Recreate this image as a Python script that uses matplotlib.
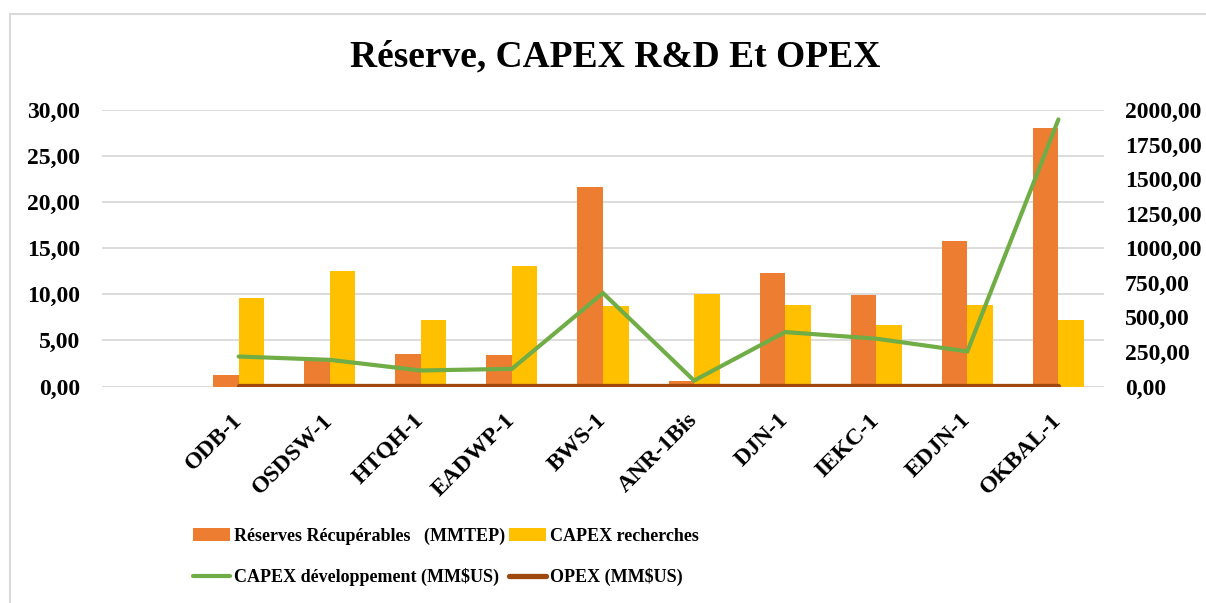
import numpy as np
from matplotlib import pyplot as plt
from matplotlib.patches import Rectangle
from matplotlib.ticker import FuncFormatter

plt.rcParams['font.family'] = ['Liberation Serif', 'DejaVu Serif']
plt.rcParams['font.weight'] = 'bold'

wells = ['ODB-1', 'OSDSW-1', 'HTQH-1', 'EADWP-1', 'BWS-1',
         'ANR-1Bis', 'DJN-1', 'IEKC-1', 'EDJN-1', 'OKBAL-1']
reserves = [1.2, 3.0, 3.5, 3.4, 21.7, 0.65, 12.3, 9.9, 15.8, 28.1]
capex_rech = [9.6, 12.5, 7.2, 13.1, 8.7, 10.0, 8.9, 6.7, 8.8, 7.25]
capex_dev = [217, 193, 116, 128, 676, 43, 394, 346, 254, 1932]
opex = [3, 3, 3, 3, 3, 3, 3, 3, 3, 3]

c_orange = '#ED7D31'
c_yellow = '#FFC000'
c_green = '#70AD47'
c_brown = '#9E480E'
c_grid = '#D9D9D9'

fig = plt.figure(figsize=(12.06, 6.03), dpi=100)
ax = fig.add_axes([0.0846, 0.359, 0.8308, 0.4585])
ax2 = ax.twinx()

x = np.arange(len(wells))
w = 0.28
b1 = ax.bar(x - w / 2, reserves, w, color=c_orange, zorder=2)
b2 = ax.bar(x + w / 2, capex_rech, w, color=c_yellow, zorder=2)
l1, = ax2.plot(x, capex_dev, color=c_green, lw=3.0, solid_capstyle='round',
               solid_joinstyle='miter', zorder=4)
l2, = ax2.plot(x, opex, color=c_brown, lw=3.8, solid_capstyle='round', zorder=3)

# one empty slot on the left of the first well
ax.set_xlim(-1.5, 9.5)
ax.set_ylim(0, 30)
ax2.set_ylim(0, 2000)
ax.set_yticks(np.arange(0, 31, 5))
ax2.set_yticks(np.arange(0, 2001, 250))

fmt = FuncFormatter(lambda v, p: f'{v:.2f}'.replace('.', ','))
ax.yaxis.set_major_formatter(fmt)
ax2.yaxis.set_major_formatter(fmt)

ax.grid(axis='y', color=c_grid, lw=1.3, zorder=0)
ax.set_axisbelow(True)
for a in (ax, ax2):
    for s in a.spines.values():
        s.set_visible(False)
    a.tick_params(length=0, labelsize=17)
ax.tick_params(axis='y', pad=16)
ax2.tick_params(axis='y', pad=15)

ax.set_xticks(x)
ax.set_xticklabels(wells, rotation=45, ha='right', va='center',
                   rotation_mode='anchor')
ax.tick_params(axis='x', pad=22)

fig.text(0.51, 0.905, 'Réserve, CAPEX R&D Et OPEX', ha='center', va='center',
         fontsize=27, fontweight='bold')

fig.legend([b1, l1, b2, l2],
           ['Réserves Récupérables   (MMTEP)', 'CAPEX développement (MM$US)',
            'CAPEX recherches', 'OPEX (MM$US)'],
           ncol=2, loc='center left', bbox_to_anchor=(0.16, 0.0763), frameon=False,
           borderpad=0, borderaxespad=0,
           fontsize=13, handlelength=2.05, handleheight=0.66, handletextpad=0.2,
           columnspacing=0.25, labelspacing=1.3)

fig.patches.append(Rectangle((0.0083, -0.1), 1.2, 1.0768, transform=fig.transFigure,
                             fill=False, edgecolor=c_grid, lw=1.5))

fig.savefig('out.png', dpi=100)
